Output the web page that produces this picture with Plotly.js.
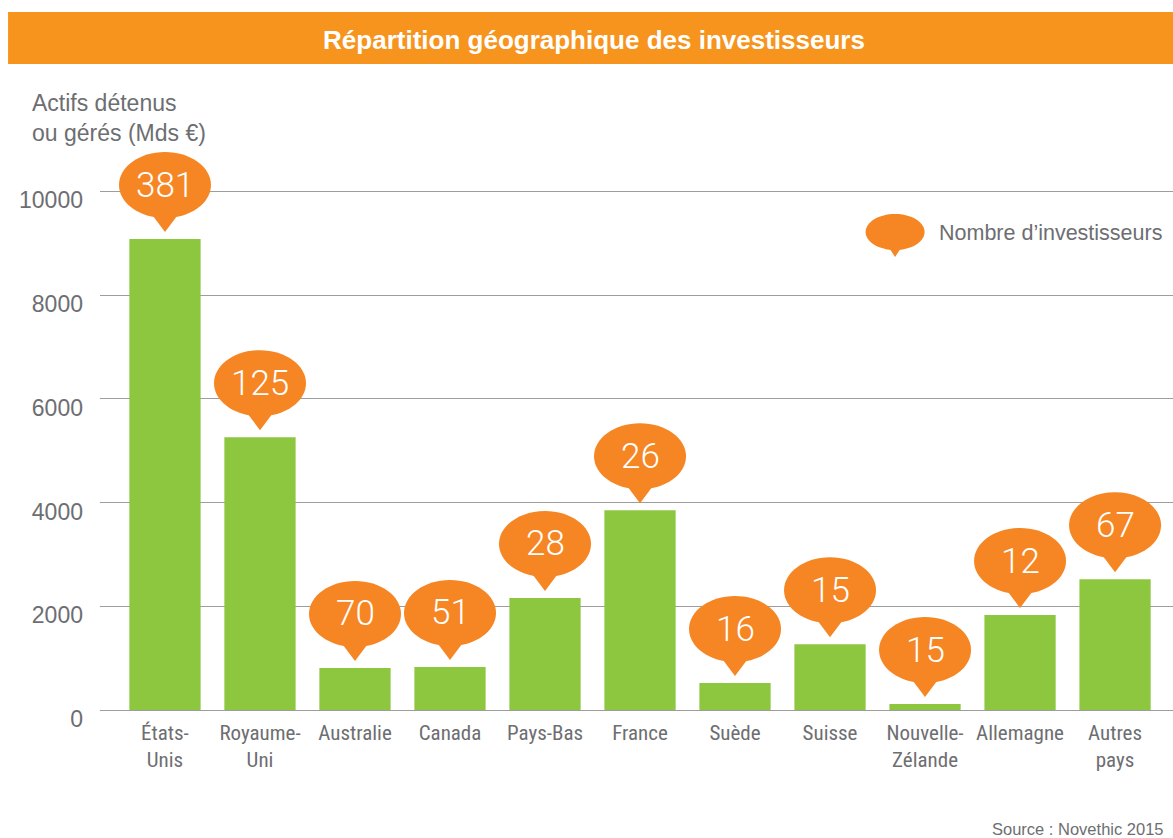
<!DOCTYPE html>
<html>
<head>
<meta charset="utf-8">
<script src="https://cdn.plot.ly/plotly-3.0.1.min.js"></script>
<style>html,body{margin:0;padding:0;background:#fff;}#chart{width:1173px;height:838px;}</style>
</head>
<body>
<div id="chart"></div>
<script>
// ---- data ----
const categories = ["États-Unis", "Royaume-Uni", "Australie", "Canada", "Pays-Bas", "France", "Suède", "Suisse", "Nouvelle-Zélande", "Allemagne", "Autres pays"];
const tickLabels = ["États-<br>Unis", "Royaume-<br>Uni", "Australie", "Canada", "Pays-Bas", "France", "Suède", "Suisse", "Nouvelle-<br>Zélande", "Allemagne", "Autres<br>pays"];
const assets = [9080, 5260, 810, 830, 2160, 3850, 520, 1270, 115, 1830, 2520];
const investors = [381, 125, 70, 51, 28, 26, 16, 15, 15, 12, 67];
const yTicks = [0, 2000, 4000, 6000, 8000, 10000];

// ---- style ----
const GREEN = "#8dc63f";
const ORANGE = "#f58623";
const BANNER = "#f7941e";
const GREY = "#6d6e71";

function ellipsePath(cx, cy, rx, ry) {
  const k = 0.5523;
  return `M ${cx + rx},${cy} ` +
    `C ${cx + rx},${cy + k * ry} ${cx + k * rx},${cy + ry} ${cx},${cy + ry} ` +
    `C ${cx - k * rx},${cy + ry} ${cx - rx},${cy + k * ry} ${cx - rx},${cy} ` +
    `C ${cx - rx},${cy - k * ry} ${cx - k * rx},${cy - ry} ${cx},${cy - ry} ` +
    `C ${cx + k * rx},${cy - ry} ${cx + rx},${cy - k * ry} ${cx + rx},${cy} Z`;
}
function tailPath(tailY, tailHalf, tipY) {
  return `M ${-tailHalf},${tailY} L ${tailHalf},${tailY} L 0,${tipY} Z`;
}

const shapes = [];
// banner
shapes.push({type: "rect", xref: "paper", yref: "paper", x0: -0.0857, x1: 1.05, y0: 1.0556, y1: 1.1405,
  fillcolor: BANNER, line: {width: 0}, layer: "below"});

const ELLIPSE = ellipsePath(0, 54, 46, 33);
const TAIL = tailPath(27, 15, 7);
categories.forEach((c, i) => {
  [ELLIPSE, TAIL].forEach(p => shapes.push({type: "path", xref: "x", yref: "y", xsizemode: "pixel", ysizemode: "pixel",
    xanchor: c, yanchor: assets[i], path: p, fillcolor: ORANGE, line: {width: 0}}));
});
// legend bubble
[ellipsePath(0, 0, 29.5, 18), tailPath(-11, 9, -25)].forEach(p => shapes.push({type: "path", xref: "paper", yref: "paper",
  xsizemode: "pixel", ysizemode: "pixel", xanchor: 0.741, yanchor: 0.781, path: p, fillcolor: ORANGE, line: {width: 0}}));

const annotations = categories.map((c, i) => ({
  x: c, y: assets[i], xref: "x", yref: "y", yshift: 54, showarrow: false,
  text: String(investors[i]), xanchor: "center", yanchor: "middle",
  font: {family: "Roboto, 'Liberation Sans', sans-serif", size: 35, color: "#ffffff", weight: 300}
}));
annotations.push({xref: "paper", yref: "paper", x: -0.0652, y: 0.967, xanchor: "left", yanchor: "middle",
  align: "left", showarrow: false, text: "Actifs détenus<br>ou gérés (Mds €)",
  font: {family: "'Liberation Sans', Arial, sans-serif", size: 23, color: GREY}});
annotations.push({xref: "paper", yref: "paper", x: 0.780, y: 0.779, xanchor: "left", yanchor: "middle",
  showarrow: false, text: "Nombre d’investisseurs",
  font: {family: "'Liberation Sans', Arial, sans-serif", size: 21.5, color: GREY}});
annotations.push({xref: "paper", yref: "paper", x: 0.8294, y: -0.194, xanchor: "left", yanchor: "middle",
  showarrow: false, text: "Source : Novethic 2015",
  font: {family: "'Liberation Sans', Arial, sans-serif", size: 16.5, color: GREY}});

const trace = {
  type: "bar", x: categories, y: assets, marker: {color: GREEN}, hoverinfo: "skip"
};

const layout = {
  width: 1173, height: 838,
  margin: {l: 100, r: 0, t: 98, b: 128},
  paper_bgcolor: "#ffffff", plot_bgcolor: "#ffffff",
  showlegend: false,
  bargap: 0.25,
  title: {text: "<b>Répartition géographique des investisseurs</b>", xref: "container", yref: "container",
    x: 0.5064, y: 0.9523, xanchor: "center", yanchor: "middle",
    font: {family: "'Liberation Sans', Arial, sans-serif", size: 26, color: "#ffffff"}},
  xaxis: {
    type: "category", range: [-0.684, 10.61], fixedrange: true,
    tickvals: categories, ticktext: tickLabels, ticks: "", showgrid: false, zeroline: false, showline: false,
    ticklabelstandoff: 8,
    tickfont: {family: "'Liberation Sans Narrow', 'Arial Narrow', 'Roboto Condensed', sans-serif", size: 21, color: GREY}
  },
  yaxis: {
    range: [0, 11800], fixedrange: true, tickvals: yTicks, ticktext: yTicks.map(String),
    showgrid: true, gridcolor: "#9d9d9d", gridwidth: 1, zeroline: true, zerolinecolor: "#9d9d9d", zerolinewidth: 1,
    showline: false, ticks: "", ticklabelstandoff: 16, ticklabelshift: 9,
    tickfont: {family: "'Liberation Sans', Arial, sans-serif", size: 23, color: GREY}
  },
  shapes: shapes,
  annotations: annotations
};

Plotly.newPlot("chart", [trace], layout, {displayModeBar: false, staticPlot: true});
</script>
</body>
</html>
